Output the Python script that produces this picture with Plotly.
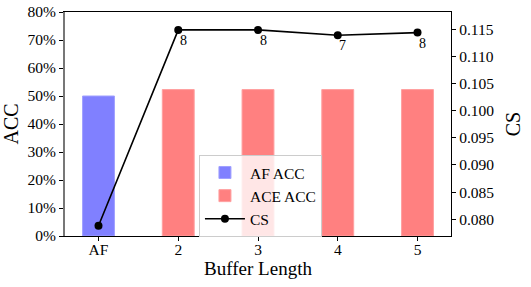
import plotly.graph_objects as go

categories = ["AF", "2", "3", "4", "5"]
af_cats = ["AF"]
af_acc = [0.50]
ace_cats = ["2", "3", "4", "5"]
ace_acc = [0.523, 0.523, 0.523, 0.523]
cs = [0.0788, 0.1149, 0.1149, 0.1139, 0.1144]
cs_labels = ["", "8", "8", "7", "8"]
acc_ticks = [0, 0.1, 0.2, 0.3, 0.4, 0.5, 0.6, 0.7, 0.8]
cs_ticks = [0.080, 0.085, 0.090, 0.095, 0.100, 0.105, 0.110, 0.115]

FONT = "Liberation Serif"
TICKFONT = dict(family=FONT, size=15.5, color="black")

fig = go.Figure()
fig.add_trace(go.Bar(x=af_cats, y=af_acc, name="AF ACC", width=0.4,
                     marker=dict(color="#8080FF", line=dict(color="#a0a0ff", width=1))))
fig.add_trace(go.Bar(x=ace_cats, y=ace_acc, name="ACE ACC", width=0.4,
                     marker=dict(color="#FF8080", line=dict(color="#ffa0a0", width=1))))
fig.add_trace(go.Scatter(x=categories, y=cs, name="CS", yaxis="y2", mode="lines+markers",
                         line=dict(color="black", width=1.6),
                         marker=dict(color="black", size=8)))

for i, (v, t) in enumerate(zip(cs, cs_labels)):
    if t:
        fig.add_annotation(x=i, y=v, xref="x", yref="y2", text=t, showarrow=False,
                           xanchor="center", yanchor="top", xshift=5, yshift=-1,
                           font=dict(family=FONT, size=14, color="black"))

fig.update_layout(
    width=531, height=287,
    margin=dict(l=65, r=80, t=12, b=51, autoexpand=False),
    plot_bgcolor="white", paper_bgcolor="white",
    barmode="overlay",
    font=dict(family=FONT, size=15.5, color="black"),
    showlegend=True,
    legend=dict(x=0.347, y=0.362, xanchor="left", yanchor="top",
                bgcolor="rgba(255,255,255,0.8)", bordercolor="#cccccc", borderwidth=1,
                font=dict(family=FONT, size=15.5), tracegroupgap=0, itemwidth=40),
    xaxis=dict(type="category", categoryorder="array", categoryarray=categories,
               range=[-0.42, 4.42], showline=True, linecolor="black", linewidth=1.2,
               mirror=True, ticks="outside", ticklen=4, tickcolor="black",
               showgrid=False, zeroline=False, automargin=False, tickfont=TICKFONT,
               ticklabelstandoff=-5, ticklabeloverflow="allow",
               title=dict(text="Buffer Length", font=dict(family=FONT, size=19), standoff=2)),
    yaxis=dict(range=[0, 0.8], tickvals=acc_ticks, tickformat=".0%",
               showline=True, linecolor="#777777", linewidth=2,
               ticks="outside", ticklen=4, tickcolor="black", tickfont=TICKFONT,
               showgrid=False, zeroline=False, automargin=False, ticklabeloverflow="allow",
               title=dict(text="ACC", font=dict(family=FONT, size=20), standoff=7)),
    yaxis2=dict(overlaying="y", side="right", range=[0.0769, 0.1182],
                tickvals=cs_ticks, tickformat=".3f", tickfont=TICKFONT,
                showline=True, linecolor="black", linewidth=1.2,
                ticks="outside", ticklen=4, tickcolor="black",
                showgrid=False, zeroline=False, automargin=False, ticklabeloverflow="allow",
                title=dict(text="CS", font=dict(family=FONT, size=20), standoff=12)),
)

# remove the browser's default 8px body margin so the figure sits at the window's corner
fig.write_html("out.html", config={"displayModeBar": False},
               post_script="document.body.style.margin='0px';")
